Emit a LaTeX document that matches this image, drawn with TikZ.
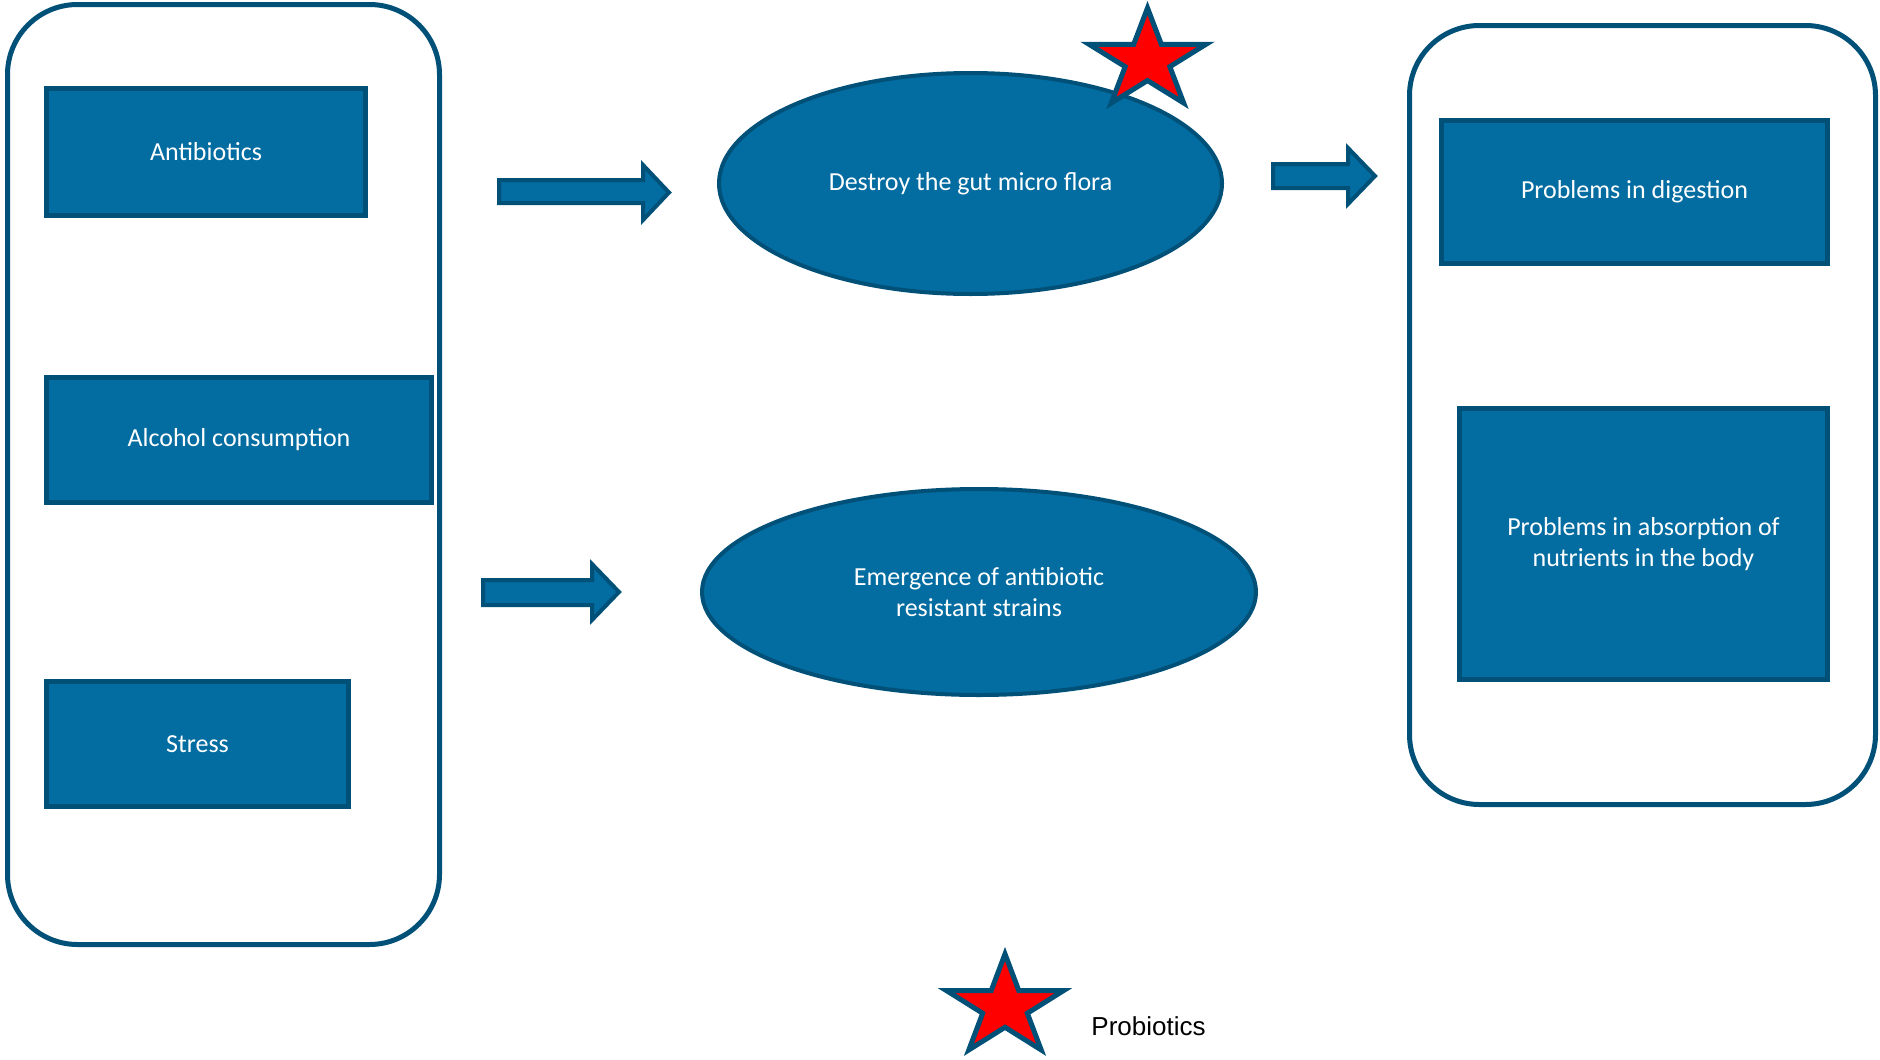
\documentclass[tikz,border=0pt]{standalone}
\usepackage{fontspec}
\setmainfont{Carlito}
\newfontfamily\arialfont{Liberation Sans}
\usetikzlibrary{shapes.geometric}
\definecolor{boxfill}{RGB}{3,108,160}
\definecolor{boxline}{RGB}{0,80,120}
\definecolor{starred}{RGB}{255,0,0}
\tikzset{
  container/.style={draw=boxline, line width=2.5pt, fill=white, rounded corners=35pt, inner sep=0pt},
  bluebox/.style={draw=boxline, line width=2.5pt, fill=boxfill, text=white, inner sep=0pt, align=center,
     font=\fontsize{13pt}{15.5pt}\selectfont},
  blueell/.style={ellipse, draw=boxline, line width=2pt, fill=boxfill, text=white, inner sep=0pt, align=center,
     font=\fontsize{13pt}{15.5pt}\selectfont},
  barrow/.style={draw=boxline, line width=2pt, fill=boxfill, line join=miter},
  redstar/.pic={
    \draw[draw=boxline, fill=starred, line width=2.5pt, line join=miter]
      (0,-1) -- (0.2245,-0.309) -- (0.951,-0.309) -- (0.363,0.118) -- (0.588,0.809)
      -- (0,0.382) -- (-0.588,0.809) -- (-0.363,0.118) -- (-0.951,-0.309) -- (-0.2245,-0.309) -- cycle;
  }
}
\begin{document}
\begin{tikzpicture}[x=0.5pt, y=-0.5pt]
\useasboundingbox (0,0) rectangle (1880,1060);
% containers
\node[container, minimum width=216pt, minimum height=470pt] (leftc) at (223.5,474.5) {};
\node[container, minimum width=233pt, minimum height=389.5pt] (rightc) at (1642.5,415) {};
% left boxes
\node[bluebox, minimum width=159.5pt, minimum height=63.5pt] (antib) at (206,152) {Antibiotics};
\node[bluebox, minimum width=192.5pt, minimum height=62.5pt] (alcohol) at (239,440) {Alcohol consumption};
\node[bluebox, minimum width=151pt, minimum height=62.5pt] (stress) at (197.5,744) {Stress};
% right boxes
\node[bluebox, minimum width=193pt, minimum height=71.5pt] (digest) at (1634.5,192) {Problems in digestion};
\node[bluebox, minimum width=184pt, minimum height=135.5pt] (absorb) at (1643.5,544) {Problems in absorption of\\nutrients in the body};
% ellipses
\node[blueell, minimum width=251.5pt, minimum height=110.5pt] (destroy) at (970.5,183.5) {Destroy the gut micro flora};
\node[blueell, minimum width=277pt, minimum height=103pt] (emerge) at (979,592) {Emergence of antibiotic\\resistant strains};
% block arrows
\draw[barrow] (499,180) -- (643,180) -- (643,165) -- (669,192.5) -- (643,220) -- (643,203) -- (499,203) -- cycle;
\draw[barrow] (483,580) -- (592,580) -- (592,564) -- (619,592) -- (592,620) -- (592,605) -- (483,605) -- cycle;
\draw[barrow] (1273,164) -- (1348,164) -- (1348,148) -- (1375,176) -- (1348,204) -- (1348,188) -- (1273,188) -- cycle;
% stars
\pic[xscale=61.5, yscale=52.5] at (1147.5,60.5) {redstar};
\pic[xscale=61.5, yscale=53] at (1005,1007) {redstar};
\node[anchor=west, inner sep=0pt, font=\arialfont\fontsize{13pt}{15.5pt}\selectfont] (probio) at (1091,1026.5) {Probiotics};
\end{tikzpicture}
\end{document}
